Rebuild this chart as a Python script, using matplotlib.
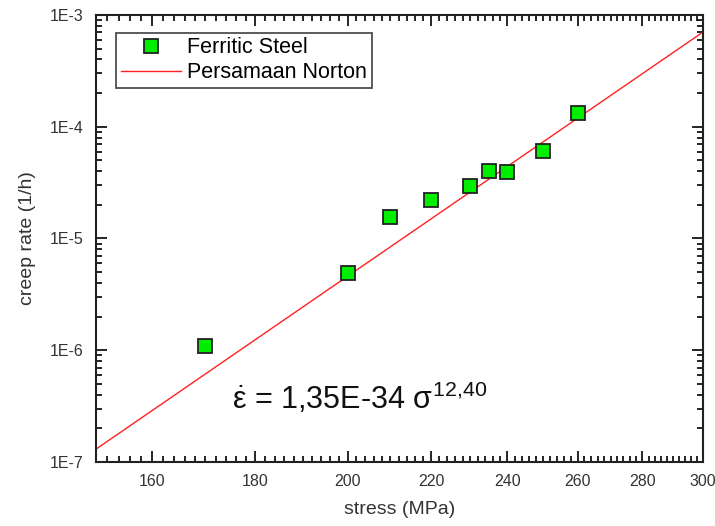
import numpy as np
import matplotlib
matplotlib.use('Agg')
import matplotlib.pyplot as plt
from matplotlib.ticker import FixedLocator, NullFormatter, LogLocator

plt.rcParams['font.family'] = ['Liberation Sans', 'DejaVu Sans']
plt.rcParams['mathtext.fontset'] = 'custom'
plt.rcParams['mathtext.rm'] = 'Liberation Sans'
plt.rcParams['mathtext.it'] = 'Liberation Sans'

# measured data
stress = [170, 200, 210, 220, 230, 235, 240, 250, 260]
creep_rate = [1.1e-6, 4.9e-6, 1.57e-5, 2.2e-5, 2.95e-5, 4.05e-5, 3.9e-5, 6.05e-5, 1.32e-4]

# Norton law: rate = A * sigma^n
A = 1.35e-34
n = 12.40

x_ticks = [160, 180, 200, 220, 240, 260, 280, 300]

fig = plt.figure(figsize=(7.15, 5.26), dpi=100)
ax = fig.add_axes([0.134, 0.1217, 0.849, 0.8498])

sig = np.linspace(150, 300, 200)
ax.plot(sig, A * sig ** n, color='#ff2020', lw=1.0, label='Persamaan Norton', zorder=2)
ax.plot(stress, creep_rate, 's', ms=10, mfc='#00ee00', mec='#222222', mew=1.3,
        label='Ferritic Steel', zorder=3)

ax.set_xscale('log')
ax.set_yscale('log')
ax.set_xlim(150, 300)
ax.set_ylim(1e-7, 1e-3)

ax.xaxis.set_major_locator(FixedLocator(x_ticks))
ax.xaxis.set_major_formatter(plt.FixedFormatter([str(t) for t in x_ticks]))
ax.xaxis.set_minor_locator(FixedLocator(np.arange(150, 301, 2)))
ax.xaxis.set_minor_formatter(NullFormatter())
ax.yaxis.set_minor_locator(LogLocator(base=10, subs=np.arange(2, 10), numticks=10))
ax.yaxis.set_minor_formatter(NullFormatter())
ax.set_yticks([1e-7, 1e-6, 1e-5, 1e-4, 1e-3])
ax.set_yticklabels(['1E-7', '1E-6', '1E-5', '1E-4', '1E-3'])

ax.tick_params(which='both', direction='in', top=True, right=True, width=1.2,
               labelsize=11.5, labelcolor='#333333', pad=9)
ax.tick_params(which='major', length=8)
ax.tick_params(which='minor', length=4)
for s in ax.spines.values():
    s.set_linewidth(1.5)
    s.set_color('#222222')

ax.set_xlabel('stress (MPa)', fontsize=14, color='#333333', labelpad=8)
ax.set_ylabel('creep rate (1/h)', fontsize=14, color='#333333', labelpad=10)

h, l = ax.get_legend_handles_labels()
leg = ax.legend(h[::-1], l[::-1], loc='upper left', bbox_to_anchor=(0.034, 0.96),
                fontsize=15.5, frameon=True, fancybox=False, edgecolor='#222222',
                handlelength=2.8, handletextpad=0.3, borderpad=0.2,
                labelspacing=0.2, borderaxespad=0)
leg.get_frame().set_linewidth(1.3)

ax.text(0.225, 0.143, r'$\dot{\varepsilon}$ = 1,35E-34 $\sigma^{12{,}40}$',
        transform=ax.transAxes, fontsize=22, color='#111111', ha='left', va='center')

fig.savefig('out.png', dpi=100)
